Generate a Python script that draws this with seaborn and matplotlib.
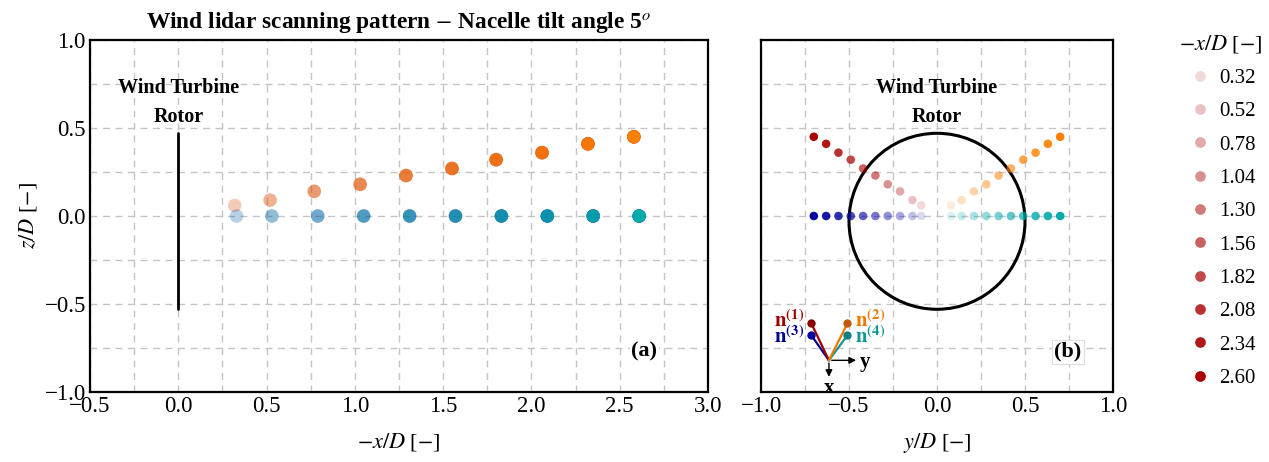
import matplotlib
matplotlib.use('Agg')
import matplotlib.pyplot as plt
import matplotlib.colors as mcolors
from matplotlib.patches import Circle
from matplotlib.ticker import MultipleLocator
import numpy as np
import pandas as pd
import seaborn as sns

# scanning distances (legend values)
dist = [0.32, 0.52, 0.78, 1.04, 1.30, 1.56, 1.82, 2.08, 2.34, 2.60]
dist_labels = ['0.32', '0.52', '0.78', '1.04', '1.30', '1.56', '1.82', '2.08', '2.34', '2.60']

# (a) side view
x_tilted = [0.32, 0.52, 0.77, 1.03, 1.29, 1.55, 1.80, 2.06, 2.32, 2.58]
z_tilted = [0.06, 0.09, 0.14, 0.18, 0.23, 0.27, 0.32, 0.36, 0.41, 0.45]
x_level = [0.33, 0.53, 0.79, 1.05, 1.31, 1.57, 1.83, 2.09, 2.35, 2.61]
z_level = [0.0, 0.0, 0.0, 0.0, 0.0, 0.0, 0.0, 0.0, 0.0, 0.0]

# (b) front view
y_left = [-0.09, -0.14, -0.21, -0.28, -0.35, -0.42, -0.49, -0.56, -0.63, -0.70]
y_right = [0.08, 0.14, 0.21, 0.28, 0.35, 0.42, 0.49, 0.56, 0.63, 0.70]

# rotor
rotor_z = [-0.53, 0.47]
rotor_center = (0.0, -0.03)
rotor_radius = 0.5

# beam direction sketch
origin = (-0.614, -0.82)
beam_ends = {'1': (-0.714, -0.61), '3': (-0.714, -0.678), '2': (-0.509, -0.61), '4': (-0.509, -0.678)}

c_red = '#a80000'
c_orange = '#ff8000'
c_navy = '#0000a0'
c_teal = '#00aaaa'
alphas = np.linspace(0.15, 1.0, len(dist))


def pal(base):
    rgb = mcolors.to_rgb(base)
    return {lab: (rgb[0], rgb[1], rgb[2], a) for lab, a in zip(dist_labels, alphas)}


sns.set_style('white')
plt.rcParams['font.family'] = ['Liberation Serif', 'DejaVu Serif']
plt.rcParams['mathtext.fontset'] = 'stix'
for key in ['text.color', 'axes.labelcolor', 'xtick.color', 'ytick.color']:
    plt.rcParams[key] = 'black'

fig = plt.figure(figsize=(12.69, 4.62), dpi=100)
ax1 = fig.add_axes([90 / 1269, 1 - 392 / 462, 618 / 1269, 352 / 462])
ax2 = fig.add_axes([761 / 1269, 1 - 392 / 462, 352 / 1269, 352 / 462])

dfa = pd.DataFrame({'x': x_tilted, 'z': z_tilted, 'd': dist_labels})
dfb = pd.DataFrame({'x': x_level, 'z': z_level, 'd': dist_labels})

for ax in (ax1, ax2):
    ax.set_axisbelow(True)
    ax.grid(True, which='both', ls=(0, (5, 4)), color='#c4c4c4', lw=1)
    ax.xaxis.set_major_locator(MultipleLocator(0.5))
    ax.xaxis.set_minor_locator(MultipleLocator(0.25))
    ax.yaxis.set_major_locator(MultipleLocator(0.5))
    ax.yaxis.set_minor_locator(MultipleLocator(0.25))
    ax.tick_params(which='major', direction='in', length=5, width=1, labelsize=16.5, color='k', pad=3)
    ax.tick_params(which='minor', length=0)
    for s in ax.spines.values():
        s.set_color('k')
        s.set_linewidth(1.6)

# panel (a)
sns.scatterplot(data=dfa, x='x', y='z', hue='d', palette=pal(c_red), s=95, linewidth=0, legend=False, ax=ax1)
sns.scatterplot(data=dfa, x='x', y='z', hue='d', palette=pal(c_orange), s=95, linewidth=0, legend=False, ax=ax1)
sns.scatterplot(data=dfb, x='x', y='z', hue='d', palette=pal(c_navy), s=95, linewidth=0, legend=False, ax=ax1)
sns.scatterplot(data=dfb, x='x', y='z', hue='d', palette=pal(c_teal), s=95, linewidth=0, legend=False, ax=ax1)
ax1.plot([0, 0], rotor_z, color='k', lw=2)
ax1.text(0, 0.645, 'Wind Turbine\nRotor', ha='center', va='center', fontsize=14.5,
         fontweight='bold', linespacing=1.65)
ax1.text(2.64, -0.77, '(a)', ha='center', va='center', fontsize=16, fontweight='bold',
         bbox=dict(facecolor='white', edgecolor='none', pad=1))
ax1.set_xlim(-0.5, 3.0)
ax1.set_ylim(-1.0, 1.0)
ax1.set_xlabel('$-x/D$ [$-$]', fontsize=16, labelpad=10)
ax1.set_ylabel('$z/D$ [$-$]', fontsize=16, labelpad=4)
ax1.set_title('Wind lidar scanning pattern $-$ Nacelle tilt angle 5$^{o}$',
              fontsize=16.8, fontweight='bold', pad=9)

# panel (b)
dfr = pd.DataFrame({'y': y_left, 'z': z_tilted, 'd': dist_labels})
dfo = pd.DataFrame({'y': y_right, 'z': z_tilted, 'd': dist_labels})
dfn = pd.DataFrame({'y': y_left, 'z': z_level, 'd': dist_labels})
dft = pd.DataFrame({'y': y_right, 'z': z_level, 'd': dist_labels})
ax2.add_patch(Circle(rotor_center, rotor_radius, fill=False, ec='k', lw=2.2, zorder=2))
sns.scatterplot(data=dfr, x='y', y='z', hue='d', palette=pal(c_red), s=38, linewidth=0, ax=ax2, zorder=3)
sns.scatterplot(data=dfo, x='y', y='z', hue='d', palette=pal(c_orange), s=38, linewidth=0, legend=False, ax=ax2, zorder=3)
sns.scatterplot(data=dfn, x='y', y='z', hue='d', palette=pal(c_navy), s=38, linewidth=0, legend=False, ax=ax2, zorder=3)
sns.scatterplot(data=dft, x='y', y='z', hue='d', palette=pal(c_teal), s=38, linewidth=0, legend=False, ax=ax2, zorder=3)
ax2.text(0, 0.645, 'Wind Turbine\nRotor', ha='center', va='center', fontsize=14.5,
         fontweight='bold', linespacing=1.65)
ax2.text(0.745, -0.77, '(b)', ha='center', va='center', fontsize=16, fontweight='bold',
         bbox=dict(facecolor='white', edgecolor='#dddddd', lw=0.8, pad=1.5))

# beam direction sketch
beam_colors = {'1': '#a00000', '3': '#000090', '2': '#f07800', '4': '#109898'}
dot_colors = {'1': '#8a0000', '3': '#0000a0', '2': '#c05a10', '4': '#108080'}
for k in ['3', '1', '4', '2']:
    ex, ez = beam_ends[k]
    ax2.plot([origin[0], ex], [origin[1], ez], color=beam_colors[k], lw=1.6, zorder=4)
    ax2.plot([ex], [ez], 'o', color=dot_colors[k], ms=5, zorder=5)
ax2.annotate('', xy=(origin[0] + 0.17, origin[1]), xytext=origin,
             arrowprops=dict(arrowstyle='-|>', color='k', lw=1, mutation_scale=10), zorder=5)
ax2.annotate('', xy=(origin[0], origin[1] - 0.11), xytext=origin,
             arrowprops=dict(arrowstyle='-|>', color='k', lw=1, mutation_scale=10), zorder=5)
ax2.text(origin[0] + 0.205, origin[1] - 0.01, 'y', fontsize=15, fontweight='bold', ha='center', va='center')
ax2.text(origin[0], -0.975, 'x', fontsize=15, fontweight='bold', ha='center', va='center')
ax2.text(-0.84, -0.6, r'$\mathbf{n}^{\mathbf{(1)}}$', color='#a00000', fontsize=15, ha='center', va='center')
ax2.text(-0.84, -0.69, r'$\mathbf{n}^{\mathbf{(3)}}$', color='#000090', fontsize=15, ha='center', va='center')
ax2.text(-0.38, -0.6, r'$\mathbf{n}^{\mathbf{(2)}}$', color='#f07800', fontsize=15, ha='center', va='center')
ax2.text(-0.38, -0.69, r'$\mathbf{n}^{\mathbf{(4)}}$', color='#109898', fontsize=15, ha='center', va='center')

ax2.set_xlim(-1.0, 1.0)
ax2.set_ylim(-1.0, 1.0)
ax2.set_yticklabels([])
ax2.set_xlabel('$y/D$ [$-$]', fontsize=16, labelpad=10)
ax2.set_ylabel('')

handles, labels = ax2.get_legend_handles_labels()
ax2.legend(handles, labels, title='$-x/D$ [$-$]', loc='upper left',
           bbox_to_anchor=(1160 / 1269, 1 - 14 / 462), bbox_transform=fig.transFigure,
           frameon=False, fontsize=15, title_fontsize=16, labelspacing=0.66,
           handlelength=1.4, handletextpad=0.2, markerscale=1.25)

fig.savefig('out.png', dpi=100)
